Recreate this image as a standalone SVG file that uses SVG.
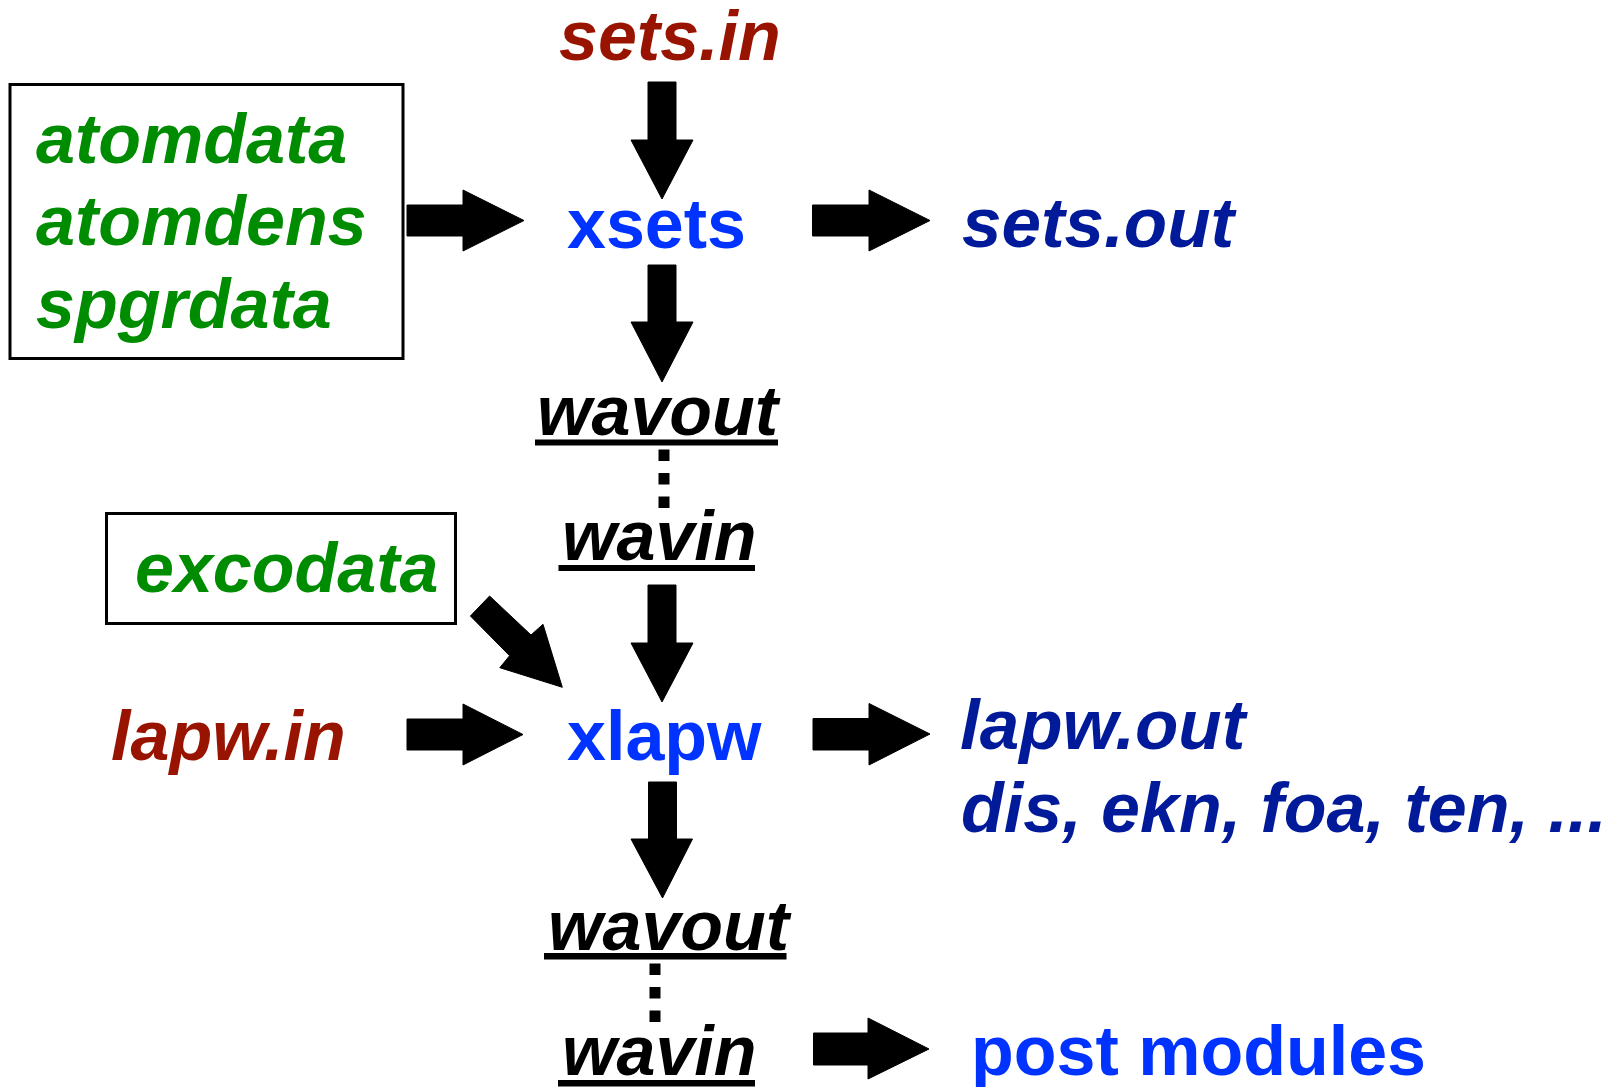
<svg xmlns="http://www.w3.org/2000/svg" width="1611" height="1087" viewBox="0 0 1611 1087">
  <style>
    text { font-family: "Liberation Sans", Arial, sans-serif; font-size: 70px; font-weight: bold; }
    .it { font-style: italic; }
    .in { fill: #991400; }
    .data { fill: #008c00; }
    .prog { fill: #0033ff; }
    .out { fill: #001a99; }
    .wav { fill: #000000; }
    .box { fill: none; stroke: #000000; stroke-width: 3; }
    .uline { fill: #000000; }
    .arrow { fill: #000000; stroke: #000000; stroke-width: 1; stroke-linejoin: round; }
    .dots { stroke: #000000; stroke-width: 11; stroke-dasharray: 11.5 12; fill: none; }
  </style>
  <rect width="1611" height="1087" fill="#ffffff"/>

  <!-- input files -->
  <g id="sets-in"><text class="it in" x="559" y="60">sets.in</text></g>
  <g id="data-files">
    <rect class="box" x="10" y="84.5" width="393" height="274"/>
    <text class="it data" x="36" y="162.5">atomdata</text>
    <text class="it data" x="36" y="245">atomdens</text>
    <text class="it data" x="36" y="328">spgrdata</text>
  </g>
  <g id="excodata">
    <rect class="box" x="106.5" y="513.5" width="349" height="110"/>
    <text class="it data" x="135" y="592">excodata</text>
  </g>
  <g id="lapw-in"><text class="it in" x="111" y="760">lapw.in</text></g>

  <!-- programs -->
  <g id="xsets"><text class="prog" x="567" y="248">xsets</text></g>
  <g id="xlapw"><text class="prog" x="567" y="760">xlapw</text></g>

  <!-- outputs -->
  <g id="sets-out"><text class="it out" x="962" y="247" style="font-size:71px">sets.out</text></g>
  <g id="lapw-out">
    <text class="it out" x="960" y="749" style="font-size:71px">lapw.out</text>
    <text class="it out" x="961" y="832">dis, ekn, foa, ten, ...</text>
  </g>
  <g id="post-modules"><text class="prog" x="971" y="1075">post modules</text></g>

  <!-- wave function files -->
  <g id="wavout-1">
    <text class="it wav" x="537" y="435">wavout</text>
    <rect class="uline" x="535" y="439.5" width="243" height="6"/>
  </g>
  <g id="wavin-1">
    <text class="it wav" x="562" y="560">wavin</text>
    <rect class="uline" x="558.5" y="565" width="196.5" height="6"/>
  </g>
  <g id="wavout-2">
    <text class="it wav" x="548" y="950">wavout</text>
    <rect class="uline" x="544" y="953" width="242.5" height="6.5"/>
  </g>
  <g id="wavin-2">
    <text class="it wav" x="562" y="1075">wavin</text>
    <rect class="uline" x="558" y="1080" width="197" height="6.5"/>
  </g>

  <!-- connectors -->
  <g id="connectors">
    <!-- downward block arrows -->
    <polygon class="arrow" points="648,82 676,82 676,140 693,140 662,199 631,140 648,140"/>
    <polygon class="arrow" points="648,265 676,265 676,322 693,322 662,382 631,322 648,322"/>
    <polygon class="arrow" points="648,585 676,585 676,643 693,643 662,702 631,643 648,643"/>
    <polygon class="arrow" points="648.5,782 676.5,782 676.5,839 692.5,839 662.5,898 631,839 648.5,839"/>
    <!-- rightward block arrows -->
    <polygon class="arrow" points="407,205 463,205 463,190 524,220.5 463,251 463,236 407,236"/>
    <polygon class="arrow" points="812.5,205 869,205 869,190 930,220.5 869,251 869,236 812.5,236"/>
    <polygon class="arrow" points="407,719 463,719 463,704 523,734.5 463,765 463,750 407,750"/>
    <polygon class="arrow" points="813,718.5 869,718.5 869,703.5 930,734 869,765 869,750 813,750"/>
    <polygon class="arrow" points="813.5,1033 868,1033 868,1018 929,1049 868,1079 868,1065 813.5,1065"/>
    <!-- diagonal arrow from excodata -->
    <polygon class="arrow" points="470.4,616 489.6,596 531,635 543,624.3 562.3,687.3 499.8,667.7 509.6,655.7"/>
    <!-- dotted links between wavout and wavin -->
    <line class="dots" x1="664" y1="449.5" x2="664" y2="508.5"/>
    <line class="dots" x1="655" y1="963.5" x2="655" y2="1022.5"/>
  </g>
</svg>
